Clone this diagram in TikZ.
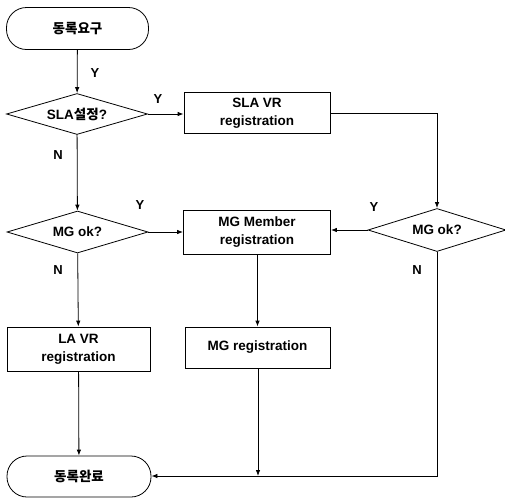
\documentclass[tikz,border=0pt]{standalone}
\usepackage{fontspec}
\setmainfont{Liberation Sans}
\newfontfamily\kr{Noto Sans CJK KR}
\usetikzlibrary{shapes.geometric,arrows.meta}
\begin{document}
\begin{tikzpicture}[x=1pt,y=-1pt,
  every node/.style={font=\fontsize{13.5}{18}\selectfont\bfseries},
  term/.style={draw, rounded corners=20pt, minimum width=142pt, minimum height=42pt, line width=0.8pt},
  proc/.style={draw, minimum width=146pt, minimum height=42pt, align=center, line width=0.8pt},
  dec/.style={draw, diamond, aspect=3.4, minimum width=141pt, minimum height=41pt, inner sep=0pt, line width=0.8pt},
  arr/.style={-{Latex[length=6pt,width=4.5pt]}, line width=0.8pt},
  ln/.style={line width=0.8pt},
  lbl/.style={font=\fontsize{13}{13}\selectfont\bfseries, inner sep=0pt}
]
\useasboundingbox (0,0) rectangle (505,501);
\node[term] (start) at (77.5,28.5) {\kr 동록요구};
\node[dec] (d1) at (77,114) {SLA{\kr 설정}?};
\node[proc, minimum height=41pt] (sla) at (257,113) {SLA VR\\registration};
\node[dec, minimum width=138pt, minimum height=43pt] (d3) at (437,230) {MG ok?};
\node[dec, minimum height=42pt] (d2) at (77.5,232) {MG ok?};
\node[proc, minimum width=147pt, minimum height=44pt] (mgm) at (257,232) {MG Member\\registration};
\node[proc, minimum width=143pt, minimum height=44pt] (la) at (78.5,349) {LA VR\\registration};
\node[proc, minimum width=145pt, minimum height=41pt] (mgr) at (257.5,347.5) {MG registration};
\node[term, minimum width=144pt, minimum height=41pt] (end) at (79,476.5) {\kr 동록완료};
\coordinate (c1) at (437,113);
\coordinate (c2) at (437,476);
\coordinate (c3) at (258,476);

\draw[arr] (start) -- (d1);
\draw[arr] (d1.east) -- (d1.east -| sla.west);
\draw[arr] (d1) -- (d2);
\draw[arr] (d2.east) -- (d2.east -| mgm.west);
\draw[arr] (d2) -- (la);
\draw[arr] (la) -- (end);
\draw[arr] (sla.east) -- (c1) -- (d3.north);
\draw[arr] (d3.west) -- (d3.west -| mgm.east);
\draw[arr] (mgm.south -| mgr.north) -- (mgr.north);
\draw[arr] (mgr.south -| c3) -- (c3);
\draw[arr] (d3.south) -- (c2) -- (c2 -| end.east);

\node[lbl] at (95,73) {Y};
\node[lbl] at (158,99) {Y};
\node[lbl] at (58,155) {N};
\node[lbl] at (140,205) {Y};
\node[lbl] at (58,270) {N};
\node[lbl] at (374,207) {Y};
\node[lbl] at (417,270) {N};
\end{tikzpicture}
\end{document}
